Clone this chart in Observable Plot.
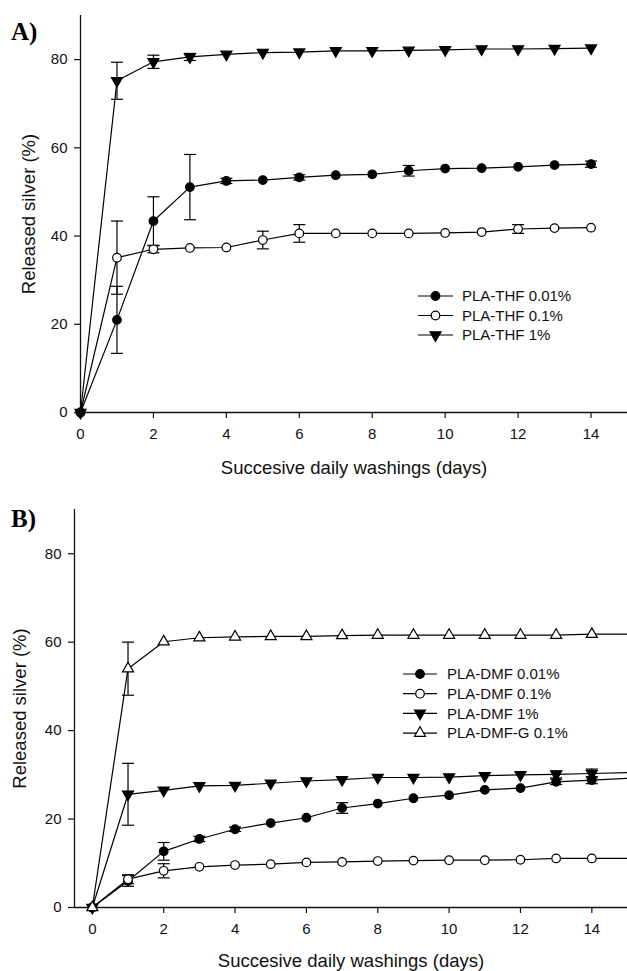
<!DOCTYPE html>
<html><head><meta charset="utf-8">
<script src="https://cdn.jsdelivr.net/npm/d3@7"></script>
<script src="https://cdn.jsdelivr.net/npm/@observablehq/plot@0.6"></script>
<style>
body{margin:0;background:#fff;}
#wrap{position:relative;width:627px;height:971px;overflow:hidden;font-family:"Liberation Sans",Arial,sans-serif;}
#wrap svg{display:block}
.overlay{position:absolute;left:0;top:0;pointer-events:none}
g[aria-label="x-axis label"], g[aria-label="x-axis label"] text,
g[aria-label="y-axis label"], g[aria-label="y-axis label"] text {font-size:18.5px}
</style></head><body><div id="wrap"></div>
<script>
// ---------- data ----------
const xTicks = [0, 2, 4, 6, 8, 10, 12, 14];
const yTicks = [0, 20, 40, 60, 80];
const xLabel = "Succesive daily washings (days)";
const yLabel = "Released silver (%)";

// Panel A
const daysA = [0, 1, 2, 3, 4, 5, 6, 7, 8, 9, 10, 11, 12, 13, 14];
const thf001 = [0, 21.0, 43.4, 51.1, 52.5, 52.7, 53.3, 53.8, 54.0, 54.8, 55.3, 55.4, 55.7, 56.1, 56.3];
const thf001Err = [0, 7.6, 5.5, 7.4, 0.6, 0, 0.6, 0, 0, 1.2, 0, 0, 0, 0, 0.7];
const thf01 = [0, 35.1, 37.0, 37.3, 37.4, 39.1, 40.6, 40.6, 40.6, 40.6, 40.7, 40.9, 41.6, 41.8, 41.9];
const thf01Err = [0, 8.3, 0.8, 0, 0, 2.0, 2.0, 0, 0, 0, 0, 0, 1.0, 0, 0];
const thf1 = [0, 75.2, 79.5, 80.6, 81.2, 81.6, 81.7, 82.0, 82.0, 82.1, 82.2, 82.4, 82.4, 82.5, 82.6];
const thf1Err = [0, 4.2, 1.5, 0.8, 0, 0, 0, 0, 0, 0, 0, 0, 0, 0, 0];
const namesA = ["PLA-THF 0.01%", "PLA-THF 0.1%", "PLA-THF 1%"];

// Panel B (lines continue to the right edge of the axis)
const daysB = [0, 1, 2, 3, 4, 5, 6, 7, 8, 9, 10, 11, 12, 13, 14, 15];
const dmf001 = [0, 6.0, 12.7, 15.5, 17.7, 19.1, 20.3, 22.5, 23.5, 24.7, 25.4, 26.6, 27.0, 28.4, 28.8, 29.2];
const dmf001Err = [0, 1.2, 2.0, 0.6, 0.5, 0, 0, 1.2, 0, 0, 0, 0, 0, 0.6, 0.8];
const dmf01 = [0, 6.4, 8.3, 9.2, 9.6, 9.8, 10.2, 10.3, 10.5, 10.6, 10.7, 10.7, 10.8, 11.1, 11.1, 11.1];
const dmf01Err = [0, 1.0, 1.6, 0, 0, 0, 0, 0, 0, 0, 0, 0, 0, 0, 0];
const dmf1 = [0, 25.6, 26.5, 27.5, 27.6, 28.1, 28.6, 28.9, 29.4, 29.4, 29.5, 29.8, 30.0, 30.1, 30.3, 30.5];
const dmf1Err = [0, 7.0, 0, 0, 0, 0, 0, 0, 0, 0, 0, 0, 0, 0.8, 1.0];
const dmfG01 = [0, 54.0, 60.1, 61.0, 61.2, 61.3, 61.3, 61.5, 61.6, 61.6, 61.6, 61.6, 61.6, 61.6, 61.8, 61.8];
const dmfG01Err = [0, 6.0, 0, 0, 0, 0, 0, 0, 0, 0, 0, 0, 0, 0, 0];
const namesB = ["PLA-DMF 0.01%", "PLA-DMF 0.1%", "PLA-DMF 1%", "PLA-DMF-G 0.1%"];

// ---------- styles ----------
const FONT = '"Liberation Sans", Arial, sans-serif';
const markerStyles = {
  circleFilled: {symbol: "circle", fill: "black", r: 4.3, rotate: 0},
  circleOpen: {symbol: "circle", fill: "white", r: 4.3, rotate: 0},
  triDownFilled: {symbol: "triangle", fill: "black", r: 4.1, rotate: 180},
  triUpOpen: {symbol: "triangle", fill: "white", r: 4.1, rotate: 0}
};
const capSymbol = {draw(ctx) { ctx.moveTo(-6, 0); ctx.lineTo(6, 0); }};

function buildPanel(cfg) {
  const marks = [
    Plot.ruleY([0], {stroke: "#111", strokeWidth: 1.3}),
    Plot.ruleX([cfg.xDomain[0]], {stroke: "#111", strokeWidth: 1.3}),
    Plot.axisX({ticks: xTicks, tickSize: 6, tickPadding: 10, tickFormat: d => String(d),
      label: xLabel, labelAnchor: "center", labelArrow: "none", labelOffset: cfg.xLabelOffset, stroke: "#111", strokeWidth: 1.2}),
    Plot.axisY({ticks: yTicks, tickSize: 6, tickPadding: 7, tickFormat: d => String(d),
      label: yLabel, labelAnchor: "center", labelArrow: "none", labelOffset: cfg.yLabelOffset, stroke: "#111", strokeWidth: 1.2})
  ];
  const seriesRows = cfg.series.map(s => s.values.map((v, i) => ({day: cfg.days[i], value: v, err: s.err[i] || 0})));
  seriesRows.forEach(rows => marks.push(Plot.line(rows, {x: "day", y: "value", stroke: "black", strokeWidth: 1.2})));
  seriesRows.forEach(rows => {
    const bars = rows.filter(d => d.err > 0);
    marks.push(Plot.ruleX(bars, {x: "day", y1: d => d.value - d.err, y2: d => d.value + d.err, stroke: "black", strokeWidth: 1.2}));
    marks.push(Plot.dot(bars, {x: "day", y: d => d.value + d.err, symbol: capSymbol, fill: "none", stroke: "black", strokeWidth: 1.2}));
    marks.push(Plot.dot(bars, {x: "day", y: d => d.value - d.err, symbol: capSymbol, fill: "none", stroke: "black", strokeWidth: 1.2}));
  });
  seriesRows.forEach((rows, k) => {
    const m = markerStyles[cfg.series[k].marker];
    marks.push(Plot.dot(rows.filter(d => d.day <= 14), {x: "day", y: "value", symbol: m.symbol, r: m.r, rotate: m.rotate,
      fill: m.fill, stroke: "black", strokeWidth: 1.2}));
  });
  return Plot.plot({
    width: 627, height: cfg.height,
    marginLeft: cfg.marginLeft, marginRight: 0, marginTop: cfg.marginTop, marginBottom: cfg.marginBottom,
    x: {domain: cfg.xDomain},
    y: {domain: [0, 90]},
    style: {fontFamily: FONT, fontSize: "15px", color: "#111", background: "white"},
    marks
  });
}

const wrap = document.getElementById("wrap");
const plotA = buildPanel({
  height: 480, marginLeft: 80, marginTop: 15, marginBottom: 68, xDomain: [0, 15],
  xLabelOffset: 61, yLabelOffset: 59, days: daysA,
  series: [
    {values: thf001, err: thf001Err, marker: "circleFilled"},
    {values: thf01, err: thf01Err, marker: "circleOpen"},
    {values: thf1, err: thf1Err, marker: "triDownFilled"}
  ]
});
const plotB = buildPanel({
  height: 491, marginLeft: 74, marginTop: 29, marginBottom: 64, xDomain: [-0.5, 15],
  xLabelOffset: 59, yLabelOffset: 62, days: daysB,
  series: [
    {values: dmf001, err: dmf001Err, marker: "circleFilled"},
    {values: dmf01, err: dmf01Err, marker: "circleOpen"},
    {values: dmf1, err: dmf1Err, marker: "triDownFilled"},
    {values: dmfG01, err: dmfG01Err, marker: "triUpOpen"}
  ]
});
wrap.appendChild(plotA);
wrap.appendChild(plotB);

// ---------- overlay: panel letters and legends ----------
const ov = d3.select(wrap).append("svg").attr("class", "overlay").attr("width", 627).attr("height", 971);
ov.append("text").attr("x", 11).attr("y", 40).attr("font-family", '"Liberation Serif", "Times New Roman", serif')
  .attr("font-weight", "bold").attr("font-size", 25).text("A)");
ov.append("text").attr("x", 11).attr("y", 527).attr("font-family", '"Liberation Serif", "Times New Roman", serif')
  .attr("font-weight", "bold").attr("font-size", 25).text("B)");

function legend(names, markers, x0, x1, tx, yStart, dy) {
  const g = ov.append("g");
  names.forEach((name, i) => {
    const y = yStart + i * dy;
    const m = markerStyles[markers[i]];
    const cx = (x0 + x1) / 2;
    g.append("line").attr("x1", x0).attr("x2", x1).attr("y1", y).attr("y2", y).attr("stroke", "black").attr("stroke-width", 1.2);
    const type = m.symbol === "circle" ? d3.symbolCircle : d3.symbolTriangle;
    g.append("path").attr("d", d3.symbol(type, Math.PI * m.r * m.r)())
      .attr("transform", `translate(${cx},${y}) rotate(${m.rotate})`)
      .attr("fill", m.fill).attr("stroke", "black").attr("stroke-width", 1.2);
    g.append("text").attr("x", tx).attr("y", y).attr("dy", "0.35em").attr("font-family", FONT)
      .attr("font-size", 15).attr("fill", "#111").text(name);
  });
}
legend(namesA, ["circleFilled", "circleOpen", "triDownFilled"], 418, 453, 462, 296, 19.5);
legend(namesB, ["circleFilled", "circleOpen", "triDownFilled", "triUpOpen"], 403, 437, 447, 674, 19.7);
</script>
</body></html>
